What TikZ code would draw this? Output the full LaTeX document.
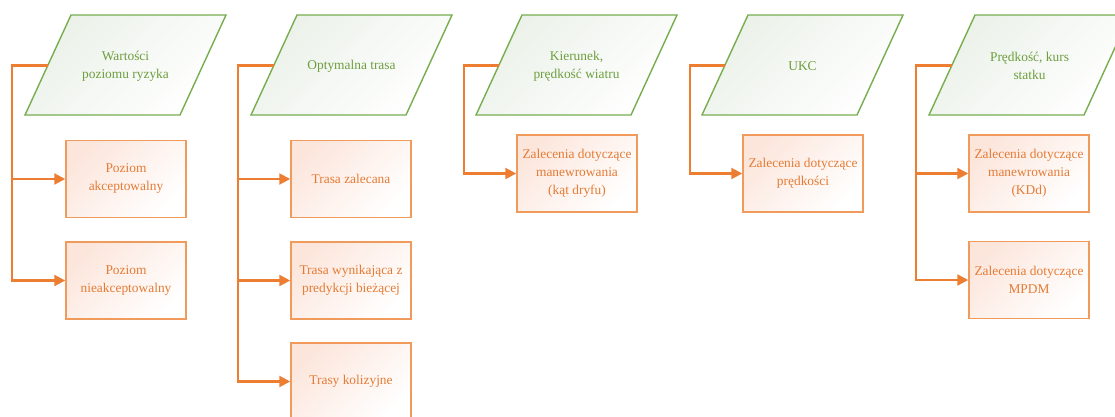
\documentclass[tikz,border=0pt]{standalone}
\usepackage{fontspec}
\setmainfont{Liberation Serif}
\usetikzlibrary{arrows.meta}
\definecolor{lineor}{HTML}{ED7D31}
\definecolor{boxor}{HTML}{F09A5C}
\definecolor{txtor}{HTML}{E57B35}
\definecolor{pgreen}{HTML}{77AD4F}
\definecolor{txtgr}{HTML}{6E9E3E}
\definecolor{boxfill}{HTML}{FCE6DC}
\definecolor{pgfillc}{HTML}{EBF1E9}
\tikzset{
  pgram/.style={draw=pgreen, line width=1.4pt, top color=pgfillc, bottom color=white, shading angle=45},
  ptext/.style={align=center, text=txtgr, font=\fontsize{13.4}{18}\selectfont},
  outbox/.style={draw=boxor, line width=1.5pt, top color=boxfill, bottom color=white, shading angle=45,
    minimum width=120pt, minimum height=77pt, inner sep=0pt, align=center, text=txtor,
    font=\fontsize{13.4}{18}\selectfont},
  conn/.style={draw=lineor, line width=2.2pt, -{Triangle[length=11pt,width=11pt]}},
}
\begin{document}
\begin{tikzpicture}[x=1pt,y=-1pt]
\useasboundingbox (0,0) rectangle (1115,416);
\clip (0,0) rectangle (1115,416);
\fill[white] (0,0) rectangle (1115,416);
% parallelograms
\path[pgram] (71,15) -- (226,15) -- (180,115) -- (25,115) -- cycle;
\path[pgram] (297,15) -- (452,15) -- (406,115) -- (251,115) -- cycle;
\path[pgram] (522,15) -- (677,15) -- (631,115) -- (476,115) -- cycle;
\path[pgram] (748,15) -- (903,15) -- (857,115) -- (702,115) -- cycle;
\path[pgram] (975,15) -- (1130,15) -- (1084,115) -- (929,115) -- cycle;
\coordinate (p1in) at (48,65.5);
\coordinate (p2in) at (274,65.5);
\coordinate (p3in) at (499,65.5);
\coordinate (p4in) at (725,65.5);
\coordinate (p5in) at (952,65.5);
\node[ptext] (p1) at (125.5,66) {Wartości\\poziomu ryzyka};
\node[ptext] (p2) at (351.5,66) {Optymalna trasa};
\node[ptext] (p3) at (576.5,66) {Kierunek,\\prędkość wiatru};
\node[ptext] (p4) at (802.5,66) {UKC};
\node[ptext] (p5) at (1029.5,66) {Prędkość, kurs\\statku};
% boxes
\node[outbox] (b11) at (126,179) {Poziom\\akceptowalny};
\node[outbox] (b12) at (126,280.5) {Poziom\\nieakceptowalny};
\node[outbox] (b21) at (351,179) {Trasa zalecana};
\node[outbox] (b22) at (351,280.5) {Trasa wynikająca z\\predykcji bieżącej};
\node[outbox] (b23) at (351,381.5) {Trasy kolizyjne};
\node[outbox] (b31) at (577,173.5) {Zalecenia dotyczące\\manewrowania\\(kąt dryfu)};
\node[outbox] (b41) at (803,173.5) {Zalecenia dotyczące\\prędkości};
\node[outbox] (b51) at (1029,173.5) {Zalecenia dotyczące\\manewrowania\\(KDd)};
\node[outbox] (b52) at (1029,280) {Zalecenia dotyczące\\MPDM};
% connectors
\draw[conn] (p1in) -- ++(-36,0) |- (b11.west);
\draw[conn] (p1in) -- ++(-36,0) |- (b12.west);
\draw[conn] (p2in) -- ++(-36,0) |- (b21.west);
\draw[conn] (p2in) -- ++(-36,0) |- (b22.west);
\draw[conn] (p2in) -- ++(-36,0) |- (b23.west);
\draw[conn] (p3in) -- ++(-35,0) |- (b31.west);
\draw[conn] (p4in) -- ++(-35,0) |- (b41.west);
\draw[conn] (p5in) -- ++(-36,0) |- (b51.west);
\draw[conn] (p5in) -- ++(-36,0) |- (b52.west);
\end{tikzpicture}
\end{document}
